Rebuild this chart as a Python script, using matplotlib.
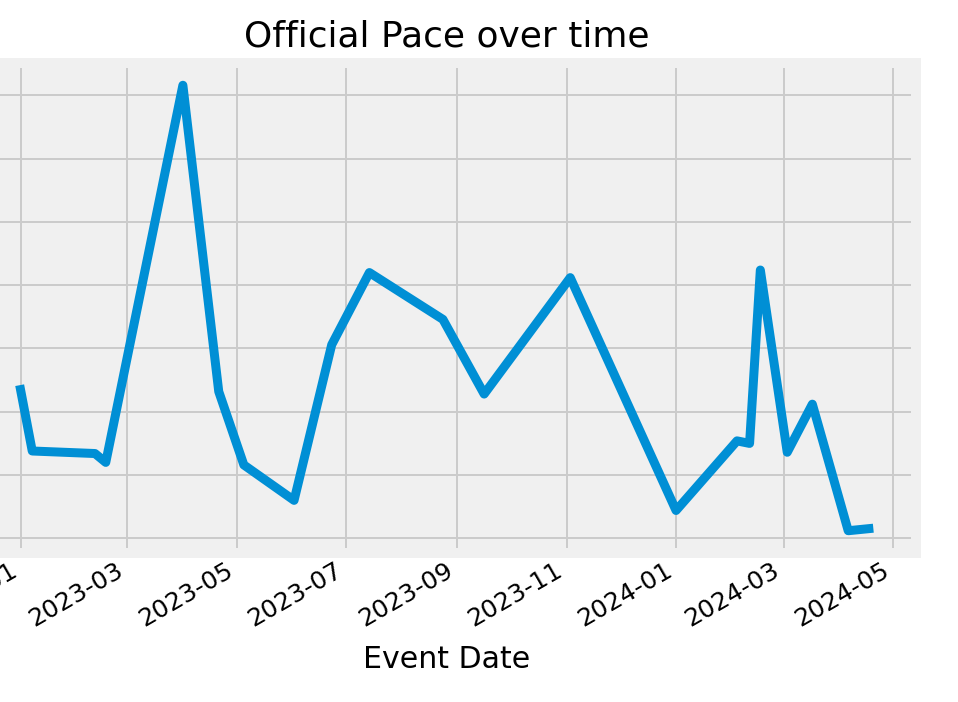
import matplotlib
matplotlib.use("Agg")
import matplotlib.pyplot as plt
import pandas as pd

plt.style.use("fivethirtyeight")

event_dates = ["2022-12-31", "2023-01-07", "2023-02-11", "2023-02-17", "2023-04-01",
               "2023-04-21", "2023-05-05", "2023-06-02", "2023-06-23", "2023-07-14",
               "2023-08-24", "2023-09-16", "2023-11-03", "2024-01-01", "2024-02-04",
               "2024-02-11", "2024-02-17", "2024-03-03", "2024-03-17", "2024-04-06",
               "2024-04-20"]
official_pace = [7.21, 6.69, 6.67, 6.60, 9.58,
                 7.16, 6.58, 6.30, 7.53, 8.10,
                 7.73, 7.14, 8.06, 6.22, 6.77,
                 6.75, 8.12, 6.68, 7.06, 6.06,
                 6.08]

dates = pd.to_datetime(event_dates)

px = 0.72  # points per pixel at dpi 100
fig = plt.figure(figsize=(9.58, 7.02), dpi=100, facecolor="white")
ax = fig.add_axes([-23 / 958, 1 - 553 / 702, 939 / 958, 490 / 702])
ax.set_facecolor("#f0f0f0")
ax.plot(dates, official_pace, color="#008fd5", linewidth=9 * px)
ax.grid(True, color="#cbcbcb", linewidth=2 * px)
for s in ax.spines.values():
    s.set_color("#f0f0f0")
    s.set_linewidth(10 * px)
ax.tick_params(axis="both", labelsize=25 * px, length=0)
ax.set_title("Official Pace over time", fontsize=36 * px, pad=12)
ax.set_xlabel("Event Date", fontsize=30 * px, labelpad=10)
for lbl in ax.get_xticklabels():
    lbl.set_rotation(30)
    lbl.set_ha("right")

fig.savefig("out.png", dpi=100, facecolor="white")
